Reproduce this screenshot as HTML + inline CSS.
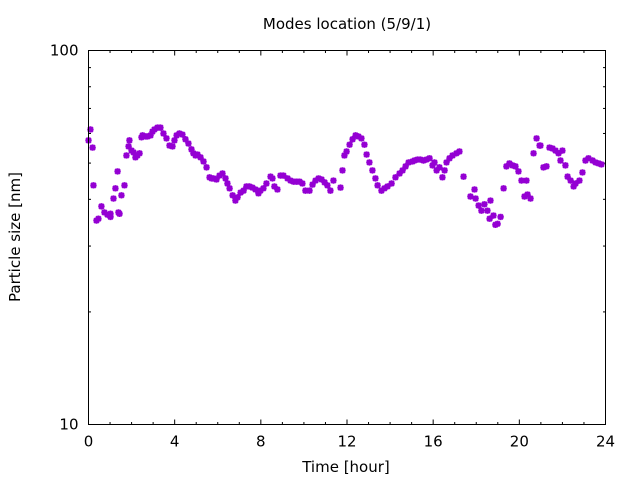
<!DOCTYPE html>
<html><head><meta charset="utf-8"><style>
body{margin:0;background:#fff}
svg text{font-family:"DejaVu Sans","Liberation Sans",sans-serif;font-size:15px;fill:#000}
</style></head><body>
<svg id="chart" width="640" height="480" viewBox="0 0 640 480">
<rect x="0" y="0" width="640" height="480" fill="#fff"/>
<text x="347" y="29" text-anchor="middle">Modes location (5/9/1)</text>
<text x="346" y="472" text-anchor="middle">Time [hour]</text>
<text transform="translate(20,237) rotate(-90)" text-anchor="middle">Particle size [nm]</text>
<g id="axes"></g>
<g id="marks"></g>
<rect x="88.5" y="50.5" width="517" height="374" fill="none" stroke="#000" stroke-width="1"/>
</svg>
<script>
const hours=[0,0.09,0.19,0.23,0.37,0.46,0.60,0.74,0.88,1.02,1.02,1.16,1.25,1.35,1.39,1.44,1.53,1.67,1.76,1.86,1.90,2.0,2.09,2.18,2.27,2.37,2.46,2.51,2.65,2.74,2.88,2.97,3.06,3.20,3.34,3.48,3.62,3.76,3.90,3.99,4.09,4.22,4.36,4.50,4.64,4.78,4.87,4.97,5.06,5.20,5.34,5.48,5.62,5.71,5.80,5.94,6.08,6.22,6.36,6.45,6.55,6.69,6.82,6.92,7.06,7.20,7.33,7.47,7.61,7.75,7.89,7.98,8.12,8.26,8.45,8.54,8.63,8.77,8.91,9.05,9.24,9.38,9.52,9.66,9.80,9.93,10.07,10.26,10.40,10.54,10.68,10.82,10.96,11.09,11.23,11.37,
11.70,11.79,11.88,11.98,12.12,12.26,12.40,12.53,12.67,12.81,12.91,13.04,13.18,13.32,13.42,13.60,13.74,13.88,14.07,14.25,14.44,14.58,14.72,14.86,15.04,15.13,15.27,15.41,15.55,15.69,15.83,15.97,16.06,16.16,16.29,16.43,16.53,16.62,16.76,16.90,17.08,17.22,17.41,17.73,17.92,17.97,18.11,18.24,18.38,18.52,18.62,18.66,18.80,18.89,18.99,19.13,19.27,19.40,19.54,19.68,19.82,19.96,20.10,20.24,20.33,20.38,20.52,20.66,20.80,20.94,20.98,21.12,21.26,21.40,21.54,21.68,21.82,21.91,22.00,22.14,22.24,22.38,22.52,22.61,22.79,22.93,23.07,23.21,23.40,23.54,23.68,23.81,23.95];
const sizes=[57.5,61.5,55.0,43.6,35.1,35.5,38.3,36.9,36.4,35.9,36.6,40.2,42.8,47.5,36.9,36.6,41.0,43.6,52.4,55.4,57.5,54.0,53.4,51.8,52.4,53.1,58.6,59.3,58.9,58.9,59.3,60.7,61.5,62.2,62.2,60.0,58.2,55.7,55.4,57.5,59.3,60.0,59.6,57.9,56.4,54.4,53.1,52.4,52.7,51.8,50.5,48.7,45.8,45.5,45.5,45.2,46.3,46.9,45.5,44.1,42.8,41.0,39.7,40.5,41.7,42.2,43.3,43.3,43.0,42.5,41.5,42.2,42.8,44.1,46.0,45.5,43.3,42.5,46.3,46.3,45.5,44.9,44.6,44.6,44.6,44.1,42.2,42.2,43.8,44.9,45.5,45.2,44.4,43.6,42.2,
44.9,43.0,47.8,52.4,53.7,56.0,57.9,59.3,58.9,58.2,56.0,52.7,50.2,47.8,45.5,43.6,42.2,42.8,43.3,44.1,45.8,46.9,47.8,49.0,50.2,50.5,50.8,51.1,51.1,50.8,51.1,51.5,49.3,50.2,47.8,48.7,45.8,47.8,50.2,51.5,52.4,53.1,53.7,46.0,40.7,42.5,40.2,38.5,37.3,38.8,37.3,35.5,39.7,36.2,34.2,34.4,35.9,42.8,49.0,49.9,49.3,49.0,47.5,44.9,40.7,44.9,41.2,40.2,53.1,58.2,55.7,55.7,48.7,49.0,55.0,54.7,54.0,53.1,50.8,54.0,49.3,46.0,44.9,43.3,44.1,44.9,47.2,50.8,51.5,50.8,50.2,49.9,49.6];
const xTicks=[0,4,8,12,16,20,24];
const yTicks=[10,100];
const X0=88.5,X1=605.5,Y0=424.5,Y1=50.5;
const xs=h=>X0+(h/24)*(X1-X0);
const ys=v=>Y0-(Math.log10(v)-1)*(Y0-Y1);
const NS="http://www.w3.org/2000/svg";
const axes=document.getElementById('axes'),marks=document.getElementById('marks');
function ln(x1,y1,x2,y2,p){const l=document.createElementNS(NS,'line');l.setAttribute('x1',x1);l.setAttribute('y1',y1);l.setAttribute('x2',x2);l.setAttribute('y2',y2);l.setAttribute('stroke','#000');l.setAttribute('stroke-width','1');p.appendChild(l);return l;}
for(let h=0;h<=24;h++){const x=xs(h);const major=h%4===0;const L=major?5:2.5;
 let t=ln(x,Y0,x,Y0-L,axes);
 t=ln(x,Y1,x,Y1+L,axes);}
xTicks.forEach(h=>{const tx=document.createElementNS(NS,'text');tx.setAttribute('x',xs(h));tx.setAttribute('y',Y0+22);tx.setAttribute('text-anchor','middle');tx.textContent=h;
 axes.appendChild(tx);});
for(let v=10;v<=100;v+=10){const y=ys(v);const major=(v===10||v===100);const L=major?5:2.5;
 let t=ln(X0,y,X0+L,y,axes);
 t=ln(X1,y,X1-L,y,axes);}
yTicks.forEach(v=>{const tx=document.createElementNS(NS,'text');tx.setAttribute('x',X0-10);tx.setAttribute('y',ys(v)+5);tx.setAttribute('text-anchor','end');tx.textContent=v;
 axes.appendChild(tx);});
hours.forEach((h,i)=>{const x=xs(h),y=ys(sizes[i]);const g=document.createElementNS(NS,'path');const r=3.2,d=2.4;
 g.setAttribute('d',`M${x-r},${y}H${x+r}M${x},${y-r}V${y+r}M${x-d},${y-d}L${x+d},${y+d}M${x-d},${y+d}L${x+d},${y-d}`);
 g.setAttribute('stroke','#9400d3');g.setAttribute('stroke-width','2');g.setAttribute('fill','none');
 
 
 marks.appendChild(g);});
</script>
</body></html>
